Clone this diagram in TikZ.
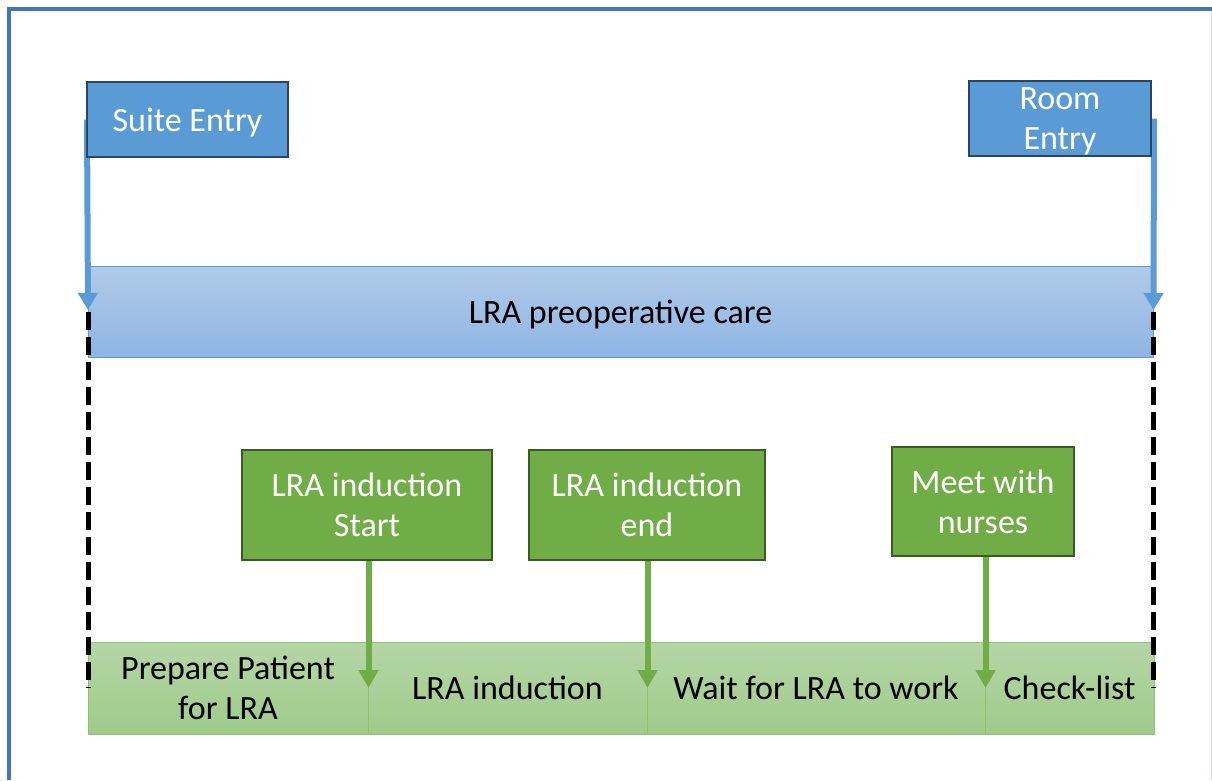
\documentclass[tikz,border=0pt]{standalone}
\usepackage{fontspec}
\setmainfont{Carlito}
\usetikzlibrary{arrows.meta}
\definecolor{frameblue}{HTML}{4472C4}
\definecolor{boxblue}{HTML}{5B9BD5}
\definecolor{boxblueline}{HTML}{2B4563}
\definecolor{preoptop}{HTML}{B1CBE9}
\definecolor{preopbot}{HTML}{8EB4E3}
\definecolor{boxgreen}{HTML}{70AD47}
\definecolor{boxgreenline}{HTML}{3A5A26}
\definecolor{celltop}{HTML}{B5D6A7}
\definecolor{cellbot}{HTML}{9FCB8A}
\definecolor{cellline}{HTML}{8DC26F}
\definecolor{rightedge}{HTML}{DADAEA}
\pgfdeclarelayer{bg}
\pgfdeclarelayer{mid}
\pgfsetlayers{bg,mid,main}
\tikzset{
  txt/.style={font=\fontsize{34}{40}\selectfont, align=center, inner sep=0pt, text depth=0pt},
  bluebox/.style={txt, draw=boxblueline, line width=2pt, fill=boxblue, text=white},
  greenbox/.style={txt, draw=boxgreenline, line width=2pt, fill=boxgreen, text=white},
  preopbar/.style={txt, draw=boxblue, line width=1pt, top color=preoptop, bottom color=preopbot, text=black},
  cellbox/.style={txt, draw=cellline, line width=1pt, top color=celltop, bottom color=cellbot, text=black, minimum height=92pt},
  bluearrow/.style={draw=boxblue, line width=6pt, -{Triangle[width=19pt,length=17pt]}},
  greenarrow/.style={draw=boxgreen, line width=6pt, -{Triangle[width=19pt,length=18pt]}},
  dashline/.style={draw=black, line width=5pt, dash pattern=on 18pt off 7pt},
}
\begin{document}
\begin{tikzpicture}[x=1pt,y=-1pt]
\useasboundingbox (0,0) rectangle (1212,780);
% top boxes
\node[bluebox, minimum width=201pt, minimum height=75pt] (suite) at (187.5,119.5) {Suite Entry};
\node[bluebox, minimum width=182pt, minimum height=75pt] (room) at (1060,118.5) {Room\\Entry};
\node[greenbox, minimum width=250pt, minimum height=110pt] (start) at (367,505) {LRA induction\\Start};
\node[greenbox, minimum width=236pt, minimum height=110pt] (endn) at (647,505) {LRA induction\\end};
\node[greenbox, minimum width=182pt, minimum height=109pt] (meet) at (983,501.5) {Meet with\\nurses};
\begin{pgfonlayer}{bg}
  \draw[frameblue, line width=4pt] (9,780) -- (9,9) -- (1212,9);
  \draw[rightedge, line width=1pt] (1211,11) -- (1211,780);
  \node[preopbar, minimum width=1065pt, minimum height=91pt] (preop) at (620.5,311.5) {LRA preoperative care};
  \node[cellbox, minimum width=280pt] (c1) at (228,688) {Prepare Patient\\for LRA};
  \node[cellbox, minimum width=279pt] (c2) at (507.5,688) {LRA induction};
  \node[cellbox, minimum width=338pt] (c3) at (816,688) {Wait for LRA to work};
  \node[cellbox, minimum width=169pt] (c4) at (1069.5,688) {Check-list};
\end{pgfonlayer}
\coordinate (sl) at (88,310);
\coordinate (rl) at (1153.5,310);
\coordinate (dl1) at (88,312);
\coordinate (dl2) at (88,688);
\coordinate (dr1) at (1153.5,312);
\coordinate (dr2) at (1153.5,688);
\begin{pgfonlayer}{mid}
  \draw[dashline] (dl1) -- (dl2);
  \draw[dashline] (dr1) -- (dr2);
  \draw[bluearrow] ([xshift=1pt]suite.west) -- (sl);
  \draw[bluearrow] ([xshift=2pt]room.east) -- (rl);
  \draw[greenarrow] (start.south -| c1.east) -- (c1.east);
  \draw[greenarrow] (endn.south -| c2.east) -- (c2.east);
  \draw[greenarrow] (meet.south -| c3.east) -- (c3.east);
\end{pgfonlayer}
\end{tikzpicture}
\end{document}
